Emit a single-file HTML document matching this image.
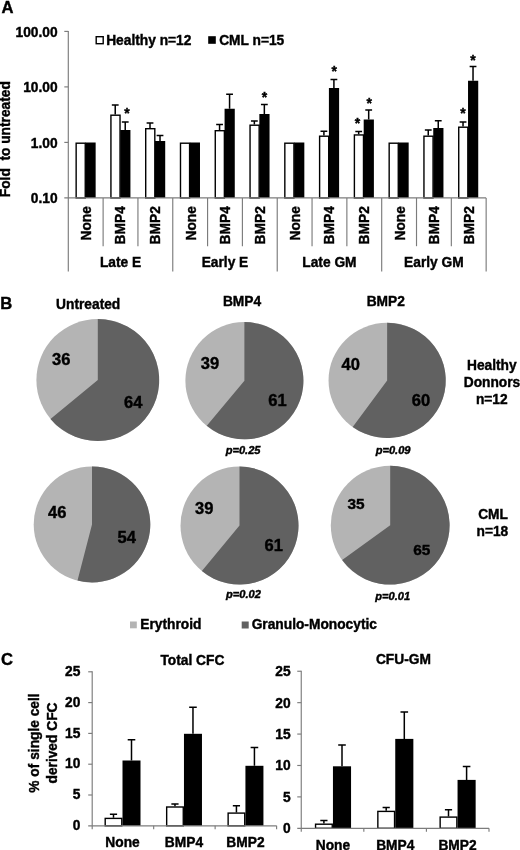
<!DOCTYPE html>
<html lang="en">
<head>
<meta charset="utf-8">
<title>Figure</title>
<style>
html,body{margin:0;padding:0;background:#fff;}
body{width:520px;height:850px;overflow:hidden;}
svg{display:block;font-family:'Liberation Sans', sans-serif;font-weight:bold;fill:#000;}
text{stroke:#000;stroke-width:0.4px;}
</style>
</head>
<body>
<svg width="520" height="850" viewBox="0 0 520 850">
<rect width="520" height="850" fill="#fff" stroke="none"/>
<text x="1.5" y="12.5" font-size="16.6">A</text>
<text x="57.6" y="36.5" font-size="13.75" text-anchor="end">100.00</text>
<text x="57.6" y="92.0" font-size="13.75" text-anchor="end">10.00</text>
<text x="57.6" y="147.5" font-size="13.75" text-anchor="end">1.00</text>
<text x="57.6" y="203.0" font-size="13.75" text-anchor="end">0.10</text>
<text x="10.4" y="139.2" font-size="13.75" text-anchor="middle" transform="rotate(-90 10.4 139.2)">Fold &#160;to untreated</text>
<rect x="96.2" y="36.7" width="7" height="7" fill="#fff" stroke="#000" stroke-width="1.4"/>
<text x="148.8" y="44.6" font-size="13.75" text-anchor="middle">Healthy n=12</text>
<rect x="208.2" y="36.2" width="7.6" height="7.6" fill="#000"/>
<text x="251.7" y="44.6" font-size="13.75" text-anchor="middle">CML n=15</text>
<text x="91.21" y="223.3" font-size="13.75" text-anchor="middle" transform="rotate(-90 91.21 223.3)">None</text>
<text x="125.43" y="225.3" font-size="13.75" text-anchor="middle" transform="rotate(-90 125.43 225.3)">BMP4</text>
<text x="160.25" y="225.3" font-size="13.75" text-anchor="middle" transform="rotate(-90 160.25 225.3)">BMP2</text>
<text x="195.67" y="223.3" font-size="13.75" text-anchor="middle" transform="rotate(-90 195.67 223.3)">None</text>
<text x="229.89" y="225.3" font-size="13.75" text-anchor="middle" transform="rotate(-90 229.89 225.3)">BMP4</text>
<text x="264.71" y="225.3" font-size="13.75" text-anchor="middle" transform="rotate(-90 264.71 225.3)">BMP2</text>
<text x="300.14" y="223.3" font-size="13.75" text-anchor="middle" transform="rotate(-90 300.14 223.3)">None</text>
<text x="334.36" y="225.3" font-size="13.75" text-anchor="middle" transform="rotate(-90 334.36 225.3)">BMP4</text>
<text x="369.18" y="225.3" font-size="13.75" text-anchor="middle" transform="rotate(-90 369.18 225.3)">BMP2</text>
<text x="404.6" y="223.3" font-size="13.75" text-anchor="middle" transform="rotate(-90 404.6 223.3)">None</text>
<text x="438.82" y="225.3" font-size="13.75" text-anchor="middle" transform="rotate(-90 438.82 225.3)">BMP4</text>
<text x="473.64" y="225.3" font-size="13.75" text-anchor="middle" transform="rotate(-90 473.64 225.3)">BMP2</text>
<text x="120.53" y="267" font-size="13.75" text-anchor="middle">Late E</text>
<text x="224.99" y="267" font-size="13.75" text-anchor="middle">Early E</text>
<text x="329.46" y="267" font-size="13.75" text-anchor="middle">Late GM</text>
<text x="433.92" y="267" font-size="13.75" text-anchor="middle">Early GM</text>
<rect x="85.45" y="142.5" width="10.2" height="55.400000000000006" fill="#000"/>
<rect x="76.15" y="143.2" width="9.1" height="54.7" fill="#fff" stroke="#000" stroke-width="1.4"/>
<rect x="120.23" y="130" width="10.2" height="67.9" fill="#000"/>
<rect x="110.93" y="115.2" width="9.1" height="82.7" fill="#fff" stroke="#000" stroke-width="1.4"/>
<path d="M115.23 114.5V105M111.83 105H118.63000000000001" stroke="#000" stroke-width="1.5" fill="none"/>
<path d="M125.23 130V122M121.83 122H128.63" stroke="#000" stroke-width="1.5" fill="none"/>
<rect x="155.01" y="141" width="10.2" height="56.900000000000006" fill="#000"/>
<rect x="145.70999999999998" y="128.7" width="9.1" height="69.2" fill="#fff" stroke="#000" stroke-width="1.4"/>
<path d="M150.01 128V123M146.60999999999999 123H153.41" stroke="#000" stroke-width="1.5" fill="none"/>
<path d="M160.01 141V135.5M156.60999999999999 135.5H163.41" stroke="#000" stroke-width="1.5" fill="none"/>
<rect x="189.79" y="142.5" width="10.2" height="55.400000000000006" fill="#000"/>
<rect x="180.48999999999998" y="143.2" width="9.1" height="54.7" fill="#fff" stroke="#000" stroke-width="1.4"/>
<rect x="224.57" y="108.75" width="10.2" height="89.15" fill="#000"/>
<rect x="215.26999999999998" y="130.7" width="9.1" height="67.2" fill="#fff" stroke="#000" stroke-width="1.4"/>
<path d="M219.57 130V124.5M216.17 124.5H222.97" stroke="#000" stroke-width="1.5" fill="none"/>
<path d="M229.57 108.75V94.25M226.17 94.25H232.97" stroke="#000" stroke-width="1.5" fill="none"/>
<rect x="259.35" y="114" width="10.2" height="83.9" fill="#000"/>
<rect x="250.04999999999998" y="125.2" width="9.1" height="72.7" fill="#fff" stroke="#000" stroke-width="1.4"/>
<path d="M254.35 124.5V121M250.95 121H257.75" stroke="#000" stroke-width="1.5" fill="none"/>
<path d="M264.35 114V104.5M260.95000000000005 104.5H267.75" stroke="#000" stroke-width="1.5" fill="none"/>
<rect x="294.13" y="142.5" width="10.2" height="55.400000000000006" fill="#000"/>
<rect x="284.83" y="143.2" width="9.1" height="54.7" fill="#fff" stroke="#000" stroke-width="1.4"/>
<rect x="328.91" y="88" width="10.2" height="109.9" fill="#000"/>
<rect x="319.61" y="136.2" width="9.1" height="61.7" fill="#fff" stroke="#000" stroke-width="1.4"/>
<path d="M323.91 135.5V131.25M320.51000000000005 131.25H327.31" stroke="#000" stroke-width="1.5" fill="none"/>
<path d="M333.91 88V79.5M330.51000000000005 79.5H337.31" stroke="#000" stroke-width="1.5" fill="none"/>
<rect x="363.69" y="119.5" width="10.2" height="78.4" fill="#000"/>
<rect x="354.39" y="134.95" width="9.1" height="62.95" fill="#fff" stroke="#000" stroke-width="1.4"/>
<path d="M358.69 134.25V131.5M355.29 131.5H362.09" stroke="#000" stroke-width="1.5" fill="none"/>
<path d="M368.69 119.5V110M365.29 110H372.09" stroke="#000" stroke-width="1.5" fill="none"/>
<rect x="398.47" y="142.5" width="10.2" height="55.400000000000006" fill="#000"/>
<rect x="389.17" y="143.2" width="9.1" height="54.7" fill="#fff" stroke="#000" stroke-width="1.4"/>
<rect x="433.25" y="128" width="10.2" height="69.9" fill="#000"/>
<rect x="423.95" y="136.2" width="9.1" height="61.7" fill="#fff" stroke="#000" stroke-width="1.4"/>
<path d="M428.25 135.5V130M424.85 130H431.65" stroke="#000" stroke-width="1.5" fill="none"/>
<path d="M438.25 128V120.75M434.85 120.75H441.65" stroke="#000" stroke-width="1.5" fill="none"/>
<rect x="468.03" y="80.75" width="10.2" height="117.15" fill="#000"/>
<rect x="458.72999999999996" y="127.2" width="9.1" height="70.7" fill="#fff" stroke="#000" stroke-width="1.4"/>
<path d="M463.03 126.5V122M459.63 122H466.42999999999995" stroke="#000" stroke-width="1.5" fill="none"/>
<path d="M473.03 80.75V66.5M469.63 66.5H476.42999999999995" stroke="#000" stroke-width="1.5" fill="none"/>
<line x1="68.3" y1="30.9" x2="68.3" y2="197.9" stroke="#7c7c7c" stroke-width="1.15"/>
<line x1="64.3" y1="31.4" x2="68.3" y2="31.4" stroke="#7c7c7c" stroke-width="1.15"/>
<line x1="64.3" y1="86.9" x2="68.3" y2="86.9" stroke="#7c7c7c" stroke-width="1.15"/>
<line x1="64.3" y1="142.4" x2="68.3" y2="142.4" stroke="#7c7c7c" stroke-width="1.15"/>
<line x1="64.3" y1="197.9" x2="486.15" y2="197.9" stroke="#7c7c7c" stroke-width="1.15"/>
<line x1="68.3" y1="197.9" x2="68.3" y2="271.4" stroke="#7c7c7c" stroke-width="1.15"/>
<line x1="103.12" y1="197.9" x2="103.12" y2="246.2" stroke="#7c7c7c" stroke-width="1.15"/>
<line x1="137.94" y1="197.9" x2="137.94" y2="246.2" stroke="#7c7c7c" stroke-width="1.15"/>
<line x1="172.76" y1="197.9" x2="172.76" y2="271.4" stroke="#7c7c7c" stroke-width="1.15"/>
<line x1="207.58" y1="197.9" x2="207.58" y2="246.2" stroke="#7c7c7c" stroke-width="1.15"/>
<line x1="242.4" y1="197.9" x2="242.4" y2="246.2" stroke="#7c7c7c" stroke-width="1.15"/>
<line x1="277.23" y1="197.9" x2="277.23" y2="271.4" stroke="#7c7c7c" stroke-width="1.15"/>
<line x1="312.05" y1="197.9" x2="312.05" y2="246.2" stroke="#7c7c7c" stroke-width="1.15"/>
<line x1="346.87" y1="197.9" x2="346.87" y2="246.2" stroke="#7c7c7c" stroke-width="1.15"/>
<line x1="381.69" y1="197.9" x2="381.69" y2="271.4" stroke="#7c7c7c" stroke-width="1.15"/>
<line x1="416.51" y1="197.9" x2="416.51" y2="246.2" stroke="#7c7c7c" stroke-width="1.15"/>
<line x1="451.33" y1="197.9" x2="451.33" y2="246.2" stroke="#7c7c7c" stroke-width="1.15"/>
<line x1="486.15" y1="197.9" x2="486.15" y2="271.4" stroke="#7c7c7c" stroke-width="1.15"/>
<text x="127" y="117.98" font-size="14" text-anchor="middle">*</text>
<text x="264.5" y="101.58" font-size="14" text-anchor="middle">*</text>
<text x="334.25" y="75.83" font-size="14" text-anchor="middle">*</text>
<text x="357.5" y="127.83" font-size="14" text-anchor="middle">*</text>
<text x="369.25" y="107.83" font-size="14" text-anchor="middle">*</text>
<text x="463" y="117.83" font-size="14" text-anchor="middle">*</text>
<text x="473" y="64.83" font-size="14" text-anchor="middle">*</text>
<text x="0.3" y="308.8" font-size="16.6">B</text>
<ellipse cx="97.8" cy="380" rx="61.4" ry="61" fill="#b4b4b4"/>
<path d="M97.8 380L97.8 319A61.4 61 0 1 1 50.49 418.88Z" fill="#616161"/>
<text x="61.3" y="365.4" font-size="16.5" text-anchor="middle">36</text>
<text x="133.2" y="407.9" font-size="16.5" text-anchor="middle">64</text>
<ellipse cx="244.4" cy="380.7" rx="59" ry="58.6" fill="#b4b4b4"/>
<path d="M244.4 380.7L244.4 322.09999999999997A59 58.6 0 1 1 206.79 425.85Z" fill="#616161"/>
<text x="210" y="368.9" font-size="16.5" text-anchor="middle">39</text>
<text x="277.5" y="405.9" font-size="16.5" text-anchor="middle">61</text>
<ellipse cx="387.15" cy="380.4" rx="58.6" ry="57.6" fill="#b4b4b4"/>
<path d="M387.15 380.4L387.15 322.79999999999995A58.6 57.6 0 1 1 352.71 427.00Z" fill="#616161"/>
<text x="350.8" y="370.1" font-size="16.5" text-anchor="middle">40</text>
<text x="421" y="406.1" font-size="16.5" text-anchor="middle">60</text>
<ellipse cx="92" cy="524.4" rx="58.3" ry="58" fill="#b4b4b4"/>
<path d="M92 524.4L92 466.4A58.3 58 0 1 1 77.50 580.58Z" fill="#616161"/>
<text x="57.2" y="518.3" font-size="16.5" text-anchor="middle">46</text>
<text x="126.7" y="543.4" font-size="16.5" text-anchor="middle">54</text>
<ellipse cx="239.5" cy="525.6" rx="59" ry="59" fill="#b4b4b4"/>
<path d="M239.5 525.6L239.5 466.6A59 59 0 1 1 201.89 571.06Z" fill="#616161"/>
<text x="204.2" y="514.1" font-size="16.5" text-anchor="middle">39</text>
<text x="273.8" y="550.9" font-size="16.5" text-anchor="middle">61</text>
<ellipse cx="390.2" cy="525.2" rx="59.4" ry="59.4" fill="#b4b4b4"/>
<path d="M390.2 525.2L390.2 465.80000000000007A59.4 59.4 0 1 1 342.14 560.11Z" fill="#616161"/>
<text x="356.1" y="508.8" font-size="15.4" text-anchor="middle">35</text>
<text x="421.7" y="555.0" font-size="15.4" text-anchor="middle">65</text>
<text x="88.2" y="308.8" font-size="13.75" text-anchor="middle">Untreated</text>
<text x="242" y="306.2" font-size="13.75" text-anchor="middle">BMP4</text>
<text x="385.8" y="306.2" font-size="13.75" text-anchor="middle">BMP2</text>
<text x="243.1" y="454" font-size="11.1" text-anchor="middle" font-style="italic">p=0.25</text>
<text x="393.1" y="454" font-size="11.1" text-anchor="middle" font-style="italic">p=0.09</text>
<text x="243.5" y="597.9" font-size="11.1" text-anchor="middle" font-style="italic">p=0.02</text>
<text x="392.7" y="600" font-size="11.1" text-anchor="middle" font-style="italic">p=0.01</text>
<text x="491.8" y="370.4" font-size="13.75" text-anchor="middle">Healthy</text>
<text x="492.0" y="387.0" font-size="13.75" text-anchor="middle">Donnors</text>
<text x="491.8" y="403.9" font-size="13.75" text-anchor="middle">n=12</text>
<text x="493.1" y="518.8" font-size="13.75" text-anchor="middle">CML</text>
<text x="492.4" y="536.2" font-size="13.75" text-anchor="middle">n=18</text>
<rect x="130" y="621.5" width="6.8" height="6.8" fill="#b4b4b4"/>
<text x="170.9" y="628.8" font-size="13.75" text-anchor="middle">Erythroid</text>
<rect x="241.7" y="621.5" width="7" height="7" fill="#616161"/>
<text x="314.3" y="628.8" font-size="13.75" text-anchor="middle">Granulo-Monocytic</text>
<text x="1" y="664.8" font-size="16.6">C</text>
<text x="192.4" y="664.6" font-size="13.75" text-anchor="middle">Total CFC</text>
<text x="403.4" y="664" font-size="13.75" text-anchor="middle">CFU-GM</text>
<text x="38.5" y="743.0" font-size="13.75" text-anchor="middle" transform="rotate(-90 38.5 743.0)">% of single cell</text>
<text x="57.4" y="743.0" font-size="13.75" text-anchor="middle" transform="rotate(-90 57.4 743.0)">derived CFC</text>
<text x="80.3" y="830.0" font-size="13.75" text-anchor="end">0</text>
<text x="80.3" y="799.2" font-size="13.75" text-anchor="end">5</text>
<text x="80.3" y="768.4" font-size="13.75" text-anchor="end">10</text>
<text x="80.3" y="737.6" font-size="13.75" text-anchor="end">15</text>
<text x="80.3" y="706.8" font-size="13.75" text-anchor="end">20</text>
<text x="80.3" y="676.0" font-size="13.75" text-anchor="end">25</text>
<rect x="122.5" y="760.5" width="18.0" height="65.29999999999995" fill="#000"/>
<rect x="105.2" y="818.4000000000001" width="16.6" height="7.399999999999909" fill="#fff" stroke="#000" stroke-width="1.4"/>
<path d="M113.5 817.7V814.3M109.9 814.3H117.1" stroke="#000" stroke-width="1.5" fill="none"/>
<path d="M131.5 760.5V739.8M127.7 739.8H135.3" stroke="#000" stroke-width="1.5" fill="none"/>
<text x="122.5" y="846.6" font-size="13.75" text-anchor="middle">None</text>
<rect x="183.97" y="733.8" width="18.0" height="92.0" fill="#000"/>
<rect x="166.67" y="807.0" width="16.6" height="18.8" fill="#fff" stroke="#000" stroke-width="1.4"/>
<path d="M174.97 806.3V804.1M171.37 804.1H178.57" stroke="#000" stroke-width="1.5" fill="none"/>
<path d="M192.97 733.8V707.2M189.17 707.2H196.77" stroke="#000" stroke-width="1.5" fill="none"/>
<text x="183.97" y="846.6" font-size="13.75" text-anchor="middle">BMP4</text>
<rect x="245.43" y="765.8" width="18.0" height="60.0" fill="#000"/>
<rect x="228.13" y="813.1" width="16.6" height="12.699999999999978" fill="#fff" stroke="#000" stroke-width="1.4"/>
<path d="M236.43 812.4V805.8M232.83 805.8H240.03" stroke="#000" stroke-width="1.5" fill="none"/>
<path d="M254.43 765.8V747.6M250.63 747.6H258.23" stroke="#000" stroke-width="1.5" fill="none"/>
<text x="245.43" y="846.6" font-size="13.75" text-anchor="middle">BMP2</text>
<line x1="92.2" y1="671.3" x2="92.2" y2="829.3" stroke="#7c7c7c" stroke-width="1.15"/>
<line x1="88.2" y1="825.8" x2="276.6" y2="825.8" stroke="#7c7c7c" stroke-width="1.15"/>
<line x1="88.2" y1="795.0" x2="92.2" y2="795.0" stroke="#7c7c7c" stroke-width="1.15"/>
<line x1="88.2" y1="764.2" x2="92.2" y2="764.2" stroke="#7c7c7c" stroke-width="1.15"/>
<line x1="88.2" y1="733.4" x2="92.2" y2="733.4" stroke="#7c7c7c" stroke-width="1.15"/>
<line x1="88.2" y1="702.6" x2="92.2" y2="702.6" stroke="#7c7c7c" stroke-width="1.15"/>
<line x1="88.2" y1="671.8" x2="92.2" y2="671.8" stroke="#7c7c7c" stroke-width="1.15"/>
<line x1="153.67" y1="825.8" x2="153.67" y2="829.3" stroke="#7c7c7c" stroke-width="1.15"/>
<line x1="215.13" y1="825.8" x2="215.13" y2="829.3" stroke="#7c7c7c" stroke-width="1.15"/>
<line x1="276.6" y1="825.8" x2="276.6" y2="829.3" stroke="#7c7c7c" stroke-width="1.15"/>
<text x="290.6" y="833.2" font-size="13.75" text-anchor="end">0</text>
<text x="290.6" y="801.8" font-size="13.75" text-anchor="end">5</text>
<text x="290.6" y="770.4" font-size="13.75" text-anchor="end">10</text>
<text x="290.6" y="739.0" font-size="13.75" text-anchor="end">15</text>
<text x="290.6" y="707.6" font-size="13.75" text-anchor="end">20</text>
<text x="290.6" y="676.1" font-size="13.75" text-anchor="end">25</text>
<rect x="332.95000000000005" y="766.3" width="18.1" height="62.0" fill="#000"/>
<rect x="315.55" y="824.2" width="16.700000000000003" height="4.099999999999954" fill="#fff" stroke="#000" stroke-width="1.4"/>
<path d="M323.90000000000003 823.5V820.5M320.3 820.5H327.50000000000006" stroke="#000" stroke-width="1.5" fill="none"/>
<path d="M342.0 766.3V744.9M338.2 744.9H345.8" stroke="#000" stroke-width="1.5" fill="none"/>
<text x="332.95" y="850.3" font-size="13.75" text-anchor="middle">None</text>
<rect x="395.25" y="738.9" width="18.1" height="89.39999999999998" fill="#000"/>
<rect x="377.84999999999997" y="811.4000000000001" width="16.700000000000003" height="16.89999999999991" fill="#fff" stroke="#000" stroke-width="1.4"/>
<path d="M386.2 810.7V807.6M382.59999999999997 807.6H389.8" stroke="#000" stroke-width="1.5" fill="none"/>
<path d="M404.29999999999995 738.9V712.1M400.49999999999994 712.1H408.09999999999997" stroke="#000" stroke-width="1.5" fill="none"/>
<text x="395.25" y="850.3" font-size="13.75" text-anchor="middle">BMP4</text>
<rect x="457.55" y="779.9" width="18.1" height="48.39999999999998" fill="#000"/>
<rect x="440.15" y="817.1" width="16.700000000000003" height="11.199999999999978" fill="#fff" stroke="#000" stroke-width="1.4"/>
<path d="M448.5 816.4V809.7M444.9 809.7H452.1" stroke="#000" stroke-width="1.5" fill="none"/>
<path d="M466.59999999999997 779.9V766.4M462.79999999999995 766.4H470.4" stroke="#000" stroke-width="1.5" fill="none"/>
<text x="457.55" y="850.3" font-size="13.75" text-anchor="middle">BMP2</text>
<line x1="301.25" y1="670.75" x2="301.25" y2="831.8" stroke="#7c7c7c" stroke-width="1.15"/>
<line x1="297.25" y1="828.3" x2="489" y2="828.3" stroke="#7c7c7c" stroke-width="1.15"/>
<line x1="297.25" y1="796.89" x2="301.25" y2="796.89" stroke="#7c7c7c" stroke-width="1.15"/>
<line x1="297.25" y1="765.48" x2="301.25" y2="765.48" stroke="#7c7c7c" stroke-width="1.15"/>
<line x1="297.25" y1="734.07" x2="301.25" y2="734.07" stroke="#7c7c7c" stroke-width="1.15"/>
<line x1="297.25" y1="702.66" x2="301.25" y2="702.66" stroke="#7c7c7c" stroke-width="1.15"/>
<line x1="297.25" y1="671.25" x2="301.25" y2="671.25" stroke="#7c7c7c" stroke-width="1.15"/>
<line x1="363.83" y1="828.3" x2="363.83" y2="831.8" stroke="#7c7c7c" stroke-width="1.15"/>
<line x1="426.42" y1="828.3" x2="426.42" y2="831.8" stroke="#7c7c7c" stroke-width="1.15"/>
<line x1="489.0" y1="828.3" x2="489.0" y2="831.8" stroke="#7c7c7c" stroke-width="1.15"/>
</svg>
</body>
</html>
